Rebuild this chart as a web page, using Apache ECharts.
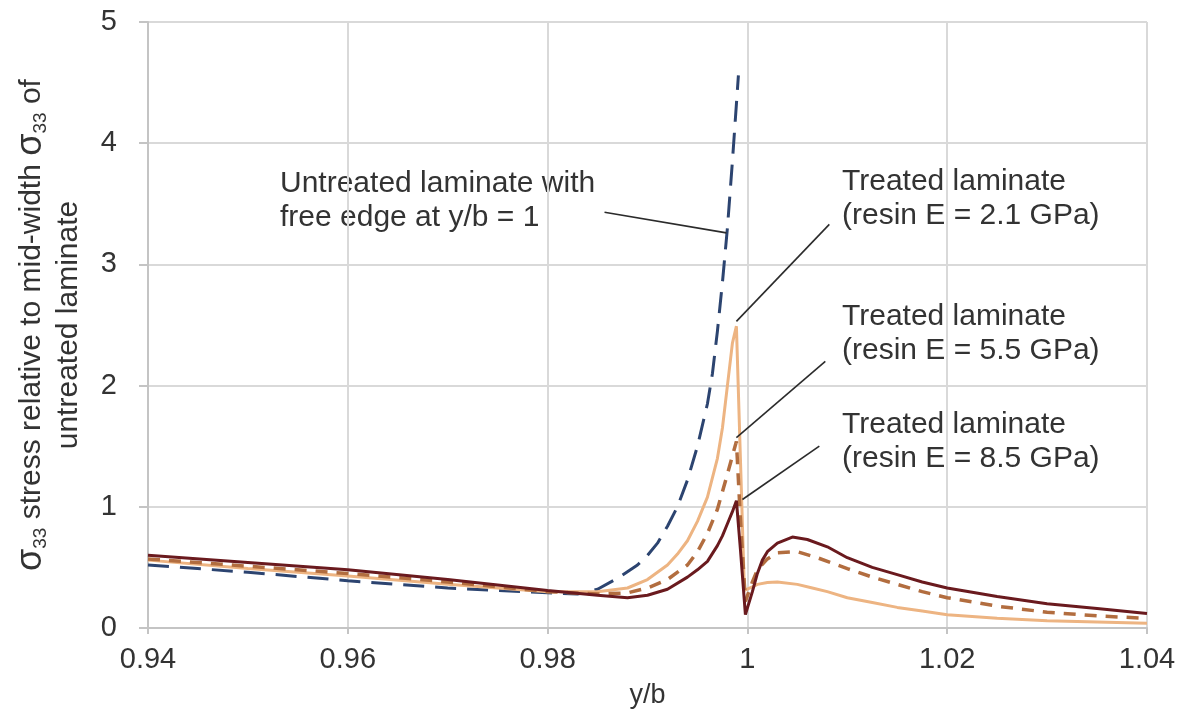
<!DOCTYPE html>
<html>
<head>
<meta charset="utf-8">
<script src="https://cdn.jsdelivr.net/npm/echarts@6/dist/echarts.min.js"></script>
<style>
  html, body { margin: 0; padding: 0; background: #fff; }
  #chart { width: 1202px; height: 714px; }
</style>
</head>
<body>
<div id="chart"></div>
<script>
// y/b positions and stress ratios
const untreatedX = [0.94, 0.95, 0.96, 0.97, 0.98, 0.983, 0.985, 0.987, 0.989, 0.990, 0.991, 0.992, 0.993, 0.994, 0.995, 0.996, 0.9965, 0.997, 0.9975, 0.998, 0.9985, 0.9991];
const untreatedY = [0.52, 0.46, 0.39, 0.33, 0.29, 0.28, 0.32, 0.41, 0.52, 0.60, 0.70, 0.84, 1.00, 1.22, 1.50, 1.85, 2.10, 2.45, 2.85, 3.30, 3.85, 4.56];

const e21X = [0.94, 0.95, 0.96, 0.97, 0.98, 0.985, 0.988, 0.990, 0.992, 0.993, 0.994, 0.995, 0.996, 0.997, 0.9975, 0.998, 0.9985, 0.9989, 0.9993, 0.9997, 1.0005, 1.001, 1.002, 1.003, 1.005, 1.0065, 1.008, 1.010, 1.0125, 1.015, 1.0175, 1.020, 1.025, 1.030, 1.035, 1.040];
const e21Y = [0.56, 0.49, 0.43, 0.36, 0.30, 0.30, 0.33, 0.40, 0.52, 0.61, 0.72, 0.88, 1.08, 1.40, 1.65, 2.00, 2.35, 2.49, 1.40, 0.31, 0.34, 0.36, 0.375, 0.38, 0.36, 0.33, 0.30, 0.25, 0.21, 0.17, 0.14, 0.11, 0.08, 0.06, 0.05, 0.04];

const e55X = [0.94, 0.95, 0.96, 0.97, 0.98, 0.985, 0.988, 0.990, 0.992, 0.994, 0.995, 0.996, 0.997, 0.998, 0.9989, 0.9993, 0.9998, 1.0005, 1.001, 1.002, 1.003, 1.005, 1.007, 1.010, 1.0125, 1.015, 1.0175, 1.020, 1.025, 1.030, 1.035, 1.040];
const e55Y = [0.57, 0.51, 0.45, 0.38, 0.30, 0.28, 0.29, 0.33, 0.40, 0.52, 0.63, 0.78, 0.98, 1.27, 1.54, 0.90, 0.22, 0.38, 0.48, 0.57, 0.62, 0.63, 0.58, 0.49, 0.42, 0.36, 0.30, 0.25, 0.18, 0.13, 0.10, 0.08];

const e85X = [0.94, 0.95, 0.96, 0.97, 0.98, 0.985, 0.988, 0.990, 0.992, 0.994, 0.995, 0.996, 0.997, 0.9975, 0.998, 0.9985, 0.9989, 0.9993, 0.9998, 1.0005, 1.001, 1.0015, 1.002, 1.003, 1.0045, 1.006, 1.008, 1.010, 1.0125, 1.015, 1.0175, 1.020, 1.025, 1.030, 1.035, 1.040];
const e85Y = [0.60, 0.54, 0.48, 0.40, 0.31, 0.27, 0.25, 0.27, 0.32, 0.42, 0.48, 0.55, 0.68, 0.76, 0.86, 0.96, 1.05, 0.65, 0.11, 0.30, 0.45, 0.56, 0.63, 0.70, 0.75, 0.73, 0.67, 0.58, 0.50, 0.44, 0.38, 0.33, 0.26, 0.20, 0.16, 0.12];

const xTicks = [0.94, 0.96, 0.98, 1.00, 1.02, 1.04];
const yTicks = [0, 1, 2, 3, 4, 5];

// leader lines: [from, to] in data units
const leaders = [
  [[0.9857, 3.43], [0.9979, 3.26]],
  [[1.0082, 3.33], [0.9989, 2.53]],
  [[1.0078, 2.20], [0.9989, 1.57]],
  [[1.0072, 1.50], [0.9995, 1.06]],
];

const zip = (xs, ys) => xs.map((x, i) => [x, ys[i]]);

const chart = echarts.init(document.getElementById("chart"));
const FONT = "Liberation Sans, Arial, sans-serif";
const txt = "#333";

const noteText = (x, y, text) => ({
  type: "text", left: x, top: y,
  style: { text, font: `30px ${FONT}`, fill: txt, lineHeight: 34 },
});

chart.setOption({
  animation: false,
  backgroundColor: "#fff",
  grid: { left: 148, right: 55, top: 22, bottom: 83 },
  xAxis: {
    type: "value", min: xTicks[0], max: xTicks[xTicks.length - 1], interval: 0.02,
    name: "y/b", nameLocation: "middle", nameGap: 54,
    nameTextStyle: { fontFamily: FONT, fontSize: 27, color: txt },
    axisLine: { show: true, lineStyle: { color: "#c4c4c4", width: 2 } },
    axisTick: { show: true, length: 6, lineStyle: { color: "#c4c4c4", width: 2 } },
    splitLine: { show: true, lineStyle: { color: "#d9d9d9", width: 2 } },
    axisLabel: {
      fontFamily: FONT, fontSize: 29, color: txt, margin: 17,
      formatter: v => String(+v.toFixed(2)),
    },
  },
  yAxis: {
    type: "value", min: yTicks[0], max: yTicks[yTicks.length - 1], interval: 1,
    name: "{s|σ}{sub|33} stress relative to mid-width {s|σ}{sub|33} of\nuntreated laminate",
    nameLocation: "middle", nameRotate: 90, nameGap: 61,
    nameTextStyle: {
      fontFamily: FONT, fontSize: 30, color: txt, lineHeight: 37, align: "center",
      rich: {
        s: { fontFamily: FONT, fontSize: 36, color: txt },
        sub: { fontFamily: FONT, fontSize: 19, color: txt, verticalAlign: "bottom", padding: [14, 0, 0, 0] },
      },
    },
    axisLine: { show: true, lineStyle: { color: "#c4c4c4", width: 2 } },
    axisTick: { show: true, length: 9, lineStyle: { color: "#c4c4c4", width: 2 } },
    splitLine: { show: true, lineStyle: { color: "#d9d9d9", width: 2 } },
    axisLabel: { fontFamily: FONT, fontSize: 29, color: txt, margin: 31 },
  },
  series: [
    {
      name: "Untreated", type: "line", data: zip(untreatedX, untreatedY),
      showSymbol: false, smooth: false,
      lineStyle: { color: "#2c4470", width: 3, type: [21, 11] },
      markLine: {
        silent: true, symbol: "none", animation: false,
        label: { show: false },
        lineStyle: { color: "#2b2b2b", width: 1.6, type: "solid" },
        data: leaders.map(([a, b]) => [{ coord: a }, { coord: b }]),
      },
    },
    {
      name: "E = 2.1 GPa", type: "line", data: zip(e21X, e21Y),
      showSymbol: false, smooth: false,
      lineStyle: { color: "#edb482", width: 3 },
    },
    {
      name: "E = 5.5 GPa", type: "line", data: zip(e55X, e55Y),
      showSymbol: false, smooth: false,
      lineStyle: { color: "#b26d3f", width: 3.5, type: [12, 9] },
    },
    {
      name: "E = 8.5 GPa", type: "line", data: zip(e85X, e85Y),
      showSymbol: false, smooth: false,
      lineStyle: { color: "#6a1a1e", width: 3 },
    },
  ],
  graphic: [
    noteText(280, 167, "Untreated laminate with\nfree edge at y/b = 1"),
    noteText(842, 165, "Treated laminate\n(resin E = 2.1 GPa)"),
    noteText(842, 300, "Treated laminate\n(resin E = 5.5 GPa)"),
    noteText(842, 408, "Treated laminate\n(resin E = 8.5 GPa)"),
  ],
});
</script>
</body>
</html>
